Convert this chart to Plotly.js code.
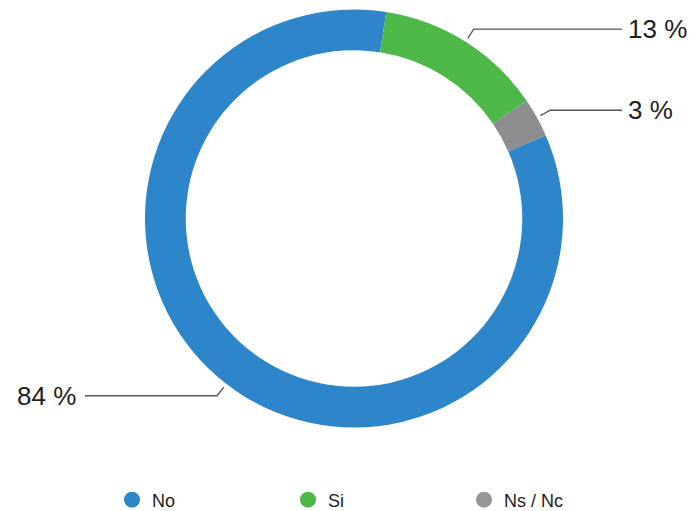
<!DOCTYPE html>
<html>
<head>
<meta charset="utf-8">
<script src="https://cdn.plot.ly/plotly-3.0.1.min.js"></script>
<style>html,body{margin:0;padding:0;background:#fff;}#chart{width:694px;height:511px;}</style>
</head>
<body>
<div id="chart"></div>
<script>
// Data
const categories = ["No", "Si", "Ns / Nc"];
const values = [84, 13, 3];
const labelTexts = ["84 %", "13 %", "3 %"];
const colors = ["#2C86C9", "#4DB748", "#8B8D8F"];
const legendColors = ["#2C86C9", "#4DB748", "#959799"];

const W = 694, H = 511;
// donut geometry (pixels)
const cx = 354, cy = 218.5, R = 209;
const rotation = 66.5;
const hole = 0.805;

const pie = {
  type: "pie",
  values: values,
  labels: categories,
  marker: { colors: colors, line: { width: 0 } },
  hole: hole,
  sort: false,
  direction: "clockwise",
  rotation: rotation,
  textinfo: "none",
  hoverinfo: "label+percent",
  showlegend: false,
  domain: { x: [(cx - R) / W, (cx + R) / W], y: [(H - cy - R) / H, (H - cy + R) / H] }
};

// legend dummy traces (circle markers)
const legendTraces = categories.map((c, i) => ({
  type: "scatter", mode: "markers", x: [null], y: [null], name: c,
  marker: { color: legendColors[i], size: 16, symbol: "circle" },
  showlegend: true, hoverinfo: "skip"
}));

// leader lines + labels computed from data
const total = values.reduce((a, b) => a + b, 0);
const px = x => x / W, py = y => 1 - y / H;
const shapes = [], annotations = [];
let start = rotation;
values.forEach((v, i) => {
  const span = v / total * 360;
  const mid = start + span / 2; // clockwise from 12 o'clock
  start += span;
  const a = mid * Math.PI / 180;
  const dx = Math.sin(a), dy = -Math.cos(a);
  const r1 = 213, r2 = 224;
  const x1 = cx + r1 * dx, y1 = cy + r1 * dy;
  const x2 = cx + r2 * dx, y2 = cy + r2 * dy;
  const right = dx >= 0;
  const x3 = right ? 622 : 85;
  shapes.push({
    type: "path", xref: "paper", yref: "paper",
    path: `M ${px(x1)} ${py(y1)} L ${px(x2)} ${py(y2)} L ${px(x3)} ${py(y2)}`,
    line: { color: "#5a5655", width: 1.3 }
  });
  annotations.push({
    xref: "paper", yref: "paper", x: px(right ? x3 + 4 : x3 - 7), y: py(y2),
    xanchor: right ? "left" : "right", yanchor: "middle",
    text: labelTexts[i], showarrow: false,
    font: { family: "Liberation Sans, Arial, sans-serif", size: 26, color: "#1e1e1e" }
  });
});

const layout = {
  width: W, height: H,
  margin: { l: 0, r: 0, t: 0, b: 0, autoexpand: false },
  paper_bgcolor: "#fff", plot_bgcolor: "#fff",
  xaxis: { visible: false }, yaxis: { visible: false },
  showlegend: true,
  legend: {
    orientation: "h", x: 112 / W, y: 11 / H, xanchor: "left", yanchor: "middle",
    entrywidth: 131, entrywidthmode: "pixels",
    font: { family: "Liberation Sans, Arial, sans-serif", size: 18, color: "#1e1e1e" },
    itemclick: false, itemdoubleclick: false
  },
  shapes: shapes,
  annotations: annotations
};

Plotly.newPlot("chart", [pie, ...legendTraces], layout, { displayModeBar: false, staticPlot: true });
</script>
</body>
</html>
